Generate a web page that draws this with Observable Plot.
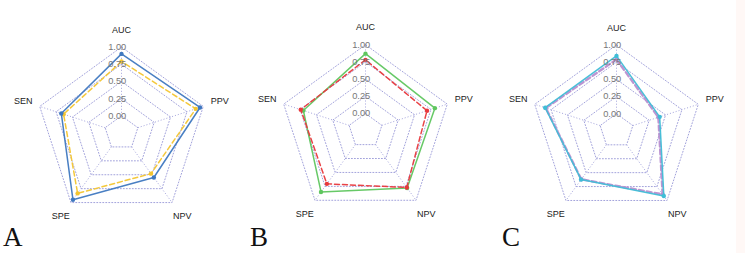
<!DOCTYPE html>
<html>
<head>
<meta charset="utf-8">
<script src="https://cdn.jsdelivr.net/npm/d3@7"></script>
<script src="https://cdn.jsdelivr.net/npm/@observablehq/plot@0.6"></script>
<style>
  body { margin: 0; background: #fff; }
  #fig { position: relative; width: 745px; height: 253px; overflow: hidden; background: #fff; }
  .panel { position: absolute; top: 0; }
  .tag { position: absolute; font-family: "Liberation Serif", "Times New Roman", serif; font-size: 27px; line-height: 1; color: #111; }
  .edge { position: absolute; top: 0; right: 0; width: 9px; height: 253px; background: #fff8f6; }
</style>
</head>
<body>
<div id="fig"><div class="edge"></div></div>
<script>
// Axes, counter-clockwise starting at the top
const metrics = ["AUC", "SEN", "SPE", "NPV", "PPV"];
const ticks = [0, 0.25, 0.5, 0.75, 1];
const tickLabels = ["0.00", "0.25", "0.50", "0.75", "1.00"];
const panelTags = ["A", "B", "C"];

// Metric values, same order as `metrics`
const aSolid  = [0.90, 0.67, 0.95, 0.55, 0.95];
const aDashed = [0.79, 0.635, 0.835, 0.48, 0.885];
const bSolid  = [0.87, 0.70, 0.85, 0.78, 0.81];
const bDashed = [0.78, 0.74, 0.705, 0.77, 0.69];
const cSolid  = [0.84, 0.84, 0.625, 0.92, 0.41];
const cDashed = [0.79, 0.83, 0.62, 0.89, 0.39];

// Panel layout (pixel centre of each radar) and series styling
const panels = [
  {tag: "A", cx: 121, cy: 132.5, tagX: 3, series: [
    {values: aDashed, color: "#f3c530", width: 1.5, dash: "5,3"},
    {values: aSolid,  color: "#3f78c0", width: 1.5, dash: null}
  ]},
  {tag: "B", cx: 364.5, cy: 130.2, tagX: 250, series: [
    {values: bSolid,  color: "#5fc65f", width: 1.5, dash: null},
    {values: bDashed, color: "#e8383c", width: 1.5, dash: "5,3"}
  ]},
  {tag: "C", cx: 615.5, cy: 130.4, tagX: 502, series: [
    {values: cDashed, color: "#b98fd0", width: 2.4, dash: "5,3"},
    {values: cSolid,  color: "#3fbdd6", width: 1.5, dash: null}
  ]}
];

const R = 86;          // pixels per unit radius
const W = 240, H = 253;
const seg = 4, gap = 1; // four segments plus an empty centre ring
const radius = v => (v * seg + gap) / (seg + gap);
const angle = i => (90 + 72 * i) * Math.PI / 180;
const polar = (r, i) => ({x: r * Math.cos(angle(i)), y: r * Math.sin(angle(i))});

const fig = document.getElementById("fig");

panels.forEach((p, pi) => {
  // grid rings (closed pentagons)
  const rings = [];
  for (let k = 0; k <= seg; k++) {
    const r = (k + gap) / (seg + gap);
    for (let i = 0; i <= metrics.length; i++) rings.push({ring: k, ...polar(r, i % metrics.length)});
  }
  // spokes from the innermost ring out to the rim
  const spokes = metrics.map((m, i) => {
    const a = polar(gap / (seg + gap), i), b = polar(1, i);
    return {x1: a.x, y1: a.y, x2: b.x, y2: b.y};
  });
  const labels = metrics.map((m, i) => ({label: m, ...polar(1.2, i)}));
  const tickText = ticks.map((t, j) => ({label: tickLabels[j], x: -0.05, y: radius(t)}));

  const marks = [
    Plot.line(rings, {x: "x", y: "y", z: "ring", stroke: "#a3a3dc", strokeWidth: 1, strokeDasharray: "1,2"}),
    Plot.link(spokes, {x1: "x1", y1: "y1", x2: "x2", y2: "y2", stroke: "#a3a3dc", strokeWidth: 1, strokeDasharray: "1,2"})
  ];
  p.series.forEach(s => {
    const pts = s.values.map((v, i) => polar(radius(v), i));
    const closed = [...pts, pts[0]];
    marks.push(Plot.line(closed, {x: "x", y: "y", stroke: s.color, strokeWidth: s.width, strokeDasharray: s.dash, strokeOpacity: 0.95}));
    marks.push(Plot.dot(pts, {x: "x", y: "y", r: 2.2, fill: s.color, stroke: "none"}));
  });
  marks.push(Plot.text(tickText, {x: "x", y: "y", text: "label", fill: "#777", fontSize: 9.3}));
  marks.push(Plot.text(labels, {x: "x", y: "y", text: "label", fill: "#222", fontSize: 9}));

  const chart = Plot.plot({
    width: W, height: H, margin: 0,
    x: {domain: [-(W / 2) / R, (W / 2) / R], axis: null},
    y: {domain: [(p.cy - H) / R, p.cy / R], axis: null},
    style: {fontFamily: "'Liberation Sans', Arial, sans-serif", background: "transparent", overflow: "visible"},
    marks
  });
  const holder = document.createElement("div");
  holder.className = "panel";
  holder.style.left = (p.cx - W / 2) + "px";
  holder.appendChild(chart);
  fig.appendChild(holder);

  const tag = document.createElement("div");
  tag.className = "tag";
  tag.textContent = panelTags[pi];
  tag.style.left = p.tagX + "px";
  tag.style.top = "224px";
  fig.appendChild(tag);
});
</script>
</body>
</html>
